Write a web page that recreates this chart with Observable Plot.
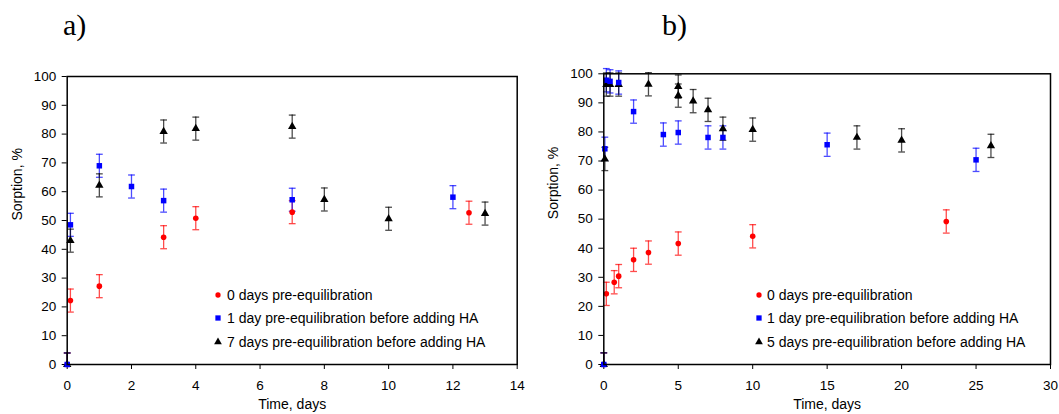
<!DOCTYPE html>
<html>
<head>
<meta charset="utf-8">
<script src="https://cdn.jsdelivr.net/npm/d3@7"></script>
<script src="https://cdn.jsdelivr.net/npm/@observablehq/plot@0.6"></script>
<style>
  html, body { margin: 0; padding: 0; background: #fff; }
  #wrap { position: relative; width: 1059px; height: 414px; overflow: hidden; font-family: "Liberation Sans", Arial, sans-serif; }
  .panel { position: absolute; top: 60px; }
  .ptitle { position: absolute; font-family: "Liberation Serif", "Times New Roman", serif; font-size: 30px; line-height: 30px; color: #000; }
  .leg { position: absolute; font-size: 14px; line-height: 16px; color: #000; white-space: nowrap; }
  .legsym { position: absolute; }
</style>
</head>
<body>
<div id="wrap"></div>
<script>
// ---------- data ----------
// Panel a)
const aTime0 = [0, 0.1, 1, 3, 4, 7, 12.5];
const aSorp0 = [0, 22.2, 27.2, 44.2, 50.8, 52.9, 52.7];
const aTime1 = [0, 0.1, 1, 2, 3, 7, 12];
const aSorp1 = [0, 48.5, 69.0, 61.8, 56.9, 57.2, 58.1];
const aTime7 = [0, 0.1, 1, 3, 4, 7, 8, 10, 13];
const aSorp7 = [0, 43.0, 62.2, 80.9, 81.9, 82.6, 57.3, 50.6, 52.4];
// Panel b)
const bTime0 = [0, 0.17, 0.7, 1, 2, 3, 5, 10, 23];
const bSorp0 = [0, 24.3, 28.3, 30.4, 36.0, 38.5, 41.6, 44.1, 49.2];
const bTime1 = [0, 0.07, 0.17, 0.42, 1, 2, 4, 5, 7, 8, 15, 25];
const bSorp1 = [0, 74.2, 97.8, 97.4, 97.0, 87.0, 79.1, 79.8, 78.1, 78.1, 75.6, 70.4];
const bTime5 = [0, 0.07, 0.17, 0.42, 1, 3, 5, 5, 6, 7, 8, 10, 17, 20, 26];
const bSorp5 = [0, 70.7, 96.3, 96.3, 96.3, 96.4, 95.6, 92.5, 90.6, 87.6, 81.1, 80.8, 78.1, 77.1, 75.2];
const errorBar = 4; // ± error, %

const aLegend = ["0 days pre-equilibration", "1 day pre-equilibration before adding HA", "7 days pre-equilibration before adding HA"];
const bLegend = ["0 days pre-equilibration", "1 day pre-equilibration before adding HA", "5 days pre-equilibration before adding HA"];
const aXTicks = [0, 2, 4, 6, 8, 10, 12, 14];
const bXTicks = [0, 5, 10, 15, 20, 25, 30];
const yTicks = [0, 10, 20, 30, 40, 50, 60, 70, 80, 90, 100];
const xTitle = "Time, days";
const yTitle = "Sorption, %";

const seriesColors = ["#ff0000", "#0000ff", "#000000"];
const seriesSymbols = ["circle", "square", "triangle"];

// ---------- helpers ----------
function rows(times, values, s) { return times.map((t, i) => ({t, v: values[i], s})); }
const capSymbol = { draw(ctx, size) { const r = Math.sqrt(size / Math.PI); ctx.moveTo(-r, 0); ctx.lineTo(r, 0); } };

function seriesMarks(data, i) {
  const c = seriesColors[i];
  return [
    Plot.ruleX(data, {x: "t", y1: d => Math.max(0, d.v - errorBar), y2: d => d.v + errorBar, stroke: c, strokeWidth: 1.3, strokeOpacity: 0.7}),
    Plot.dot(data, {x: "t", y: d => d.v + errorBar, symbol: capSymbol, r: 3.4, stroke: c, fill: "none", strokeWidth: 1.3, strokeOpacity: 0.7}),
    Plot.dot(data.filter(d => d.v - errorBar >= 0), {x: "t", y: d => d.v - errorBar, symbol: capSymbol, r: 3.4, stroke: c, fill: "none", strokeWidth: 1.3, strokeOpacity: 0.7})
  ];
}
function pointMarks(data, i) {
  return Plot.dot(data, {x: "t", y: "v", symbol: seriesSymbols[i], r: i === 0 ? 2.8 : 3.1, fill: seriesColors[i], stroke: "none"});
}

function makePanel(cfg) {
  const sets = cfg.series;
  return Plot.plot({
    width: cfg.width, height: 354,
    marginLeft: cfg.ml, marginRight: cfg.mr, marginTop: cfg.mt, marginBottom: 50,
    style: {fontFamily: "Liberation Sans, Arial, sans-serif", fontSize: "13.5px", color: "#000", background: "transparent", overflow: "visible"},
    x: {domain: cfg.xDomain, ticks: cfg.xTicks, tickSize: 5, tickPadding: 11, label: null},
    y: {domain: [0, 100], ticks: yTicks, tickSize: 5, tickPadding: 6, label: null},
    marks: [
      ...sets.flatMap((d, i) => seriesMarks(d, i)),
      pointMarks(sets[0], 0),
      pointMarks(sets[2], 2),
      pointMarks(sets[1], 1),
      Plot.frame({stroke: "#000", strokeWidth: 1.5}),
      Plot.text([yTitle], {text: d => d, frameAnchor: "left", dx: -50, rotate: -90, fontSize: 14, fill: "#000"}),
      Plot.text([xTitle], {text: d => d, frameAnchor: "bottom", dy: 44, fontSize: 14, fill: "#000"})
    ]
  });
}

const wrap = document.getElementById("wrap");

const panels = [
  {left: 0, width: 530, ml: 66.7, mr: 13.3, mt: 16, xDomain: [0, 14], xTicks: aXTicks,
   series: [rows(aTime0, aSorp0, 0), rows(aTime1, aSorp1, 1), rows(aTime7, aSorp7, 2)],
   title: "a)", titleLeft: 63, legend: aLegend, legX: 218, legTextX: 227},
  {left: 530, width: 529, ml: 73.3, mr: 9, mt: 13.3, xDomain: [0, 30], xTicks: bXTicks,
   series: [rows(bTime0, bSorp0, 0), rows(bTime1, bSorp1, 1), rows(bTime5, bSorp5, 2)],
   title: "b)", titleLeft: 662, legend: bLegend, legX: 758.5, legTextX: 767}
];

const legendRowsY = [294.5, 318, 341.5];

panels.forEach(p => {
  const div = document.createElement("div");
  div.className = "panel";
  div.style.left = p.left + "px";
  div.appendChild(makePanel(p));
  wrap.appendChild(div);

  const t = document.createElement("div");
  t.className = "ptitle";
  t.style.left = p.titleLeft + "px";
  t.style.top = "10px";
  t.textContent = p.title;
  wrap.appendChild(t);

  p.legend.forEach((label, i) => {
    const y = legendRowsY[i];
    const sizes = [22, 28, 26];
    const sym = d3.symbol().type([d3.symbolCircle, d3.symbolSquare, d3.symbolTriangle][i]).size(sizes[i])();
    const svg = d3.create("svg").attr("class", "legsym").attr("width", 10).attr("height", 10)
      .style("left", (p.legX - 5) + "px").style("top", (y - 5) + "px");
    svg.append("path").attr("d", sym).attr("transform", "translate(5,5)").attr("fill", seriesColors[i]);
    wrap.appendChild(svg.node());
    const tx = document.createElement("div");
    tx.className = "leg";
    tx.style.left = p.legTextX + "px";
    tx.style.top = (y - 8) + "px";
    tx.textContent = label;
    wrap.appendChild(tx);
  });
});
</script>
</body>
</html>
